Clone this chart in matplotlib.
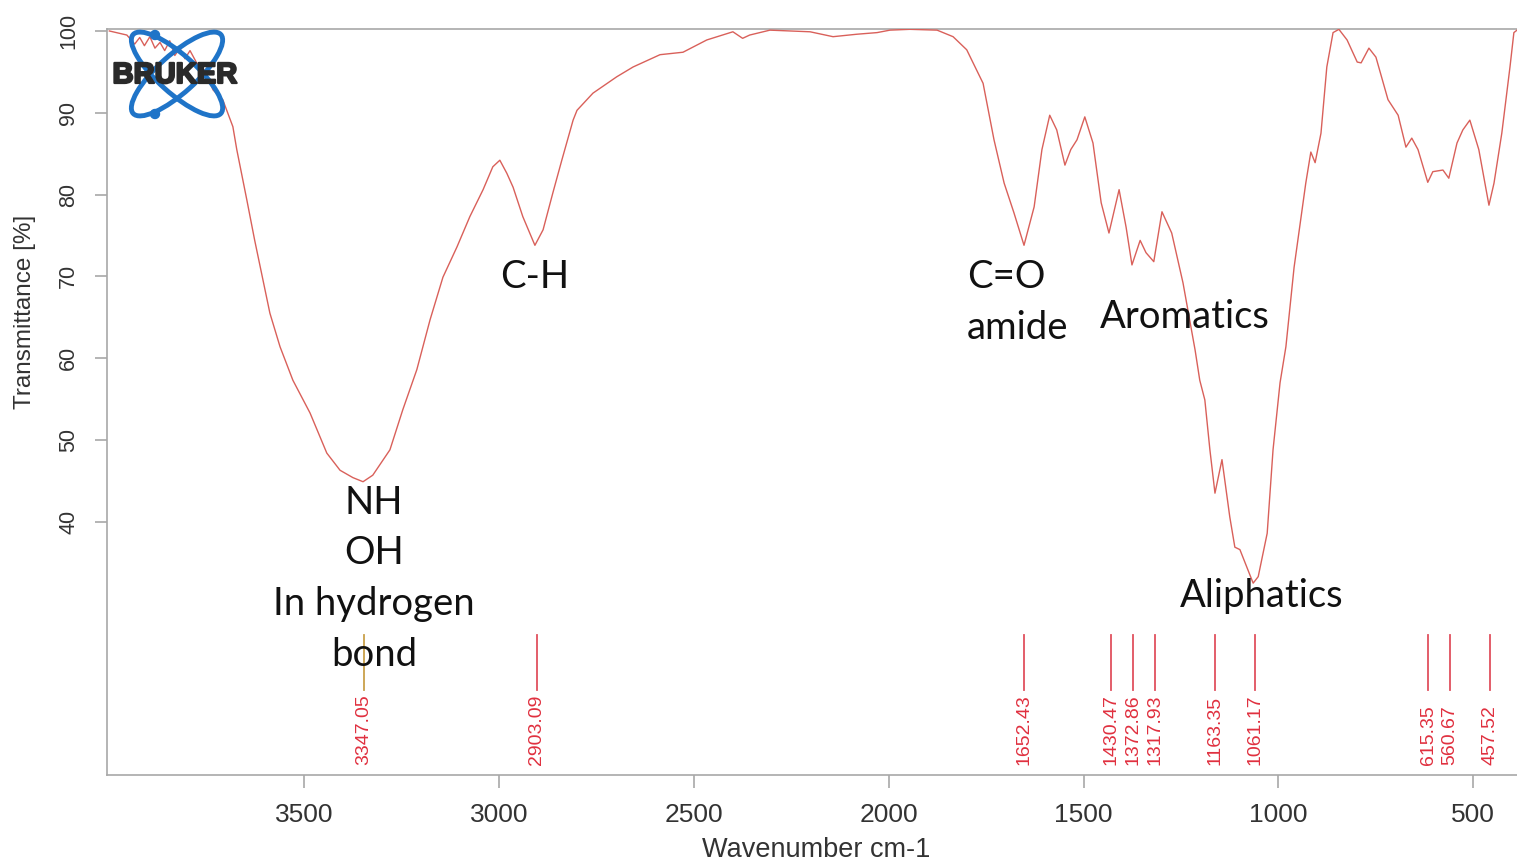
import matplotlib
matplotlib.use("Agg")
import matplotlib.pyplot as plt
import matplotlib.patheffects as pe
from matplotlib.patches import Ellipse, Circle

# ---- data ----
wavenumber = [4000, 3955, 3935, 3922, 3910, 3896, 3883, 3870, 3858, 3845, 3832, 3819,
              3806, 3793, 3776, 3755, 3734, 3709, 3683, 3673, 3647, 3627, 3606, 3588,
              3562, 3529, 3485, 3442, 3408, 3375, 3349, 3324, 3280, 3247, 3211, 3177,
              3144, 3108, 3075, 3041, 3016, 2998, 2980, 2964, 2939, 2908, 2887, 2862,
              2839, 2810, 2800, 2759, 2698, 2656, 2587, 2528, 2467, 2400, 2375, 2357,
              2305, 2202, 2143, 2082, 2030, 1997, 1946, 1876, 1835, 1800, 1758, 1730,
              1704, 1679, 1653, 1627, 1607, 1587, 1569, 1548, 1533, 1517, 1497, 1476,
              1455, 1435, 1409, 1391, 1376, 1355, 1340, 1320, 1299, 1274, 1245, 1214,
              1202, 1189, 1176, 1163, 1145, 1125, 1112, 1099, 1065, 1052, 1029, 1014,
              996, 981, 960, 930, 917, 906, 891, 876, 860, 845, 824, 798, 788, 768,
              750, 719, 693, 673, 658, 642, 617, 604, 578, 563, 542, 527, 509, 486,
              460, 447, 427, 406, 396, 388]
transmittance = [100.0, 99.5, 98.4, 99.2, 98.2, 99.3, 97.9, 98.6, 97.6, 98.8, 97.0, 97.9,
                 96.6, 97.6, 96.1, 95.2, 92.8, 91.6, 88.3, 85.5, 79.3, 74.4, 69.6, 65.5,
                 61.4, 57.3, 53.3, 48.4, 46.3, 45.4, 44.9, 45.7, 48.8, 53.7, 58.6, 64.7,
                 69.9, 73.6, 77.3, 80.6, 83.4, 84.2, 82.6, 80.9, 77.3, 73.8, 75.7, 80.2,
                 84.2, 89.1, 90.3, 92.4, 94.4, 95.6, 97.1, 97.4, 98.9, 99.9, 99.1, 99.5,
                 100.1, 99.9, 99.3, 99.6, 99.8, 100.1, 100.2, 100.1, 99.3, 97.7, 93.6, 86.7,
                 81.4, 77.8, 73.8, 78.5, 85.5, 89.7, 87.9, 83.6, 85.5, 86.7, 89.5, 86.3,
                 79.0, 75.3, 80.6, 76.0, 71.4, 74.4, 72.9, 71.8, 77.9, 75.3, 69.2, 61.0,
                 57.3, 54.9, 48.8, 43.5, 47.6, 40.6, 36.9, 36.6, 32.5, 33.3, 38.6, 48.8,
                 57.0, 61.4, 71.1, 81.4, 85.2, 83.9, 87.5, 95.6, 99.8, 100.2, 98.9, 96.2,
                 96.1, 97.9, 96.8, 91.6, 89.7, 85.8, 86.9, 85.5, 81.5, 82.8, 83.0, 82.0,
                 86.3, 87.9, 89.1, 85.5, 78.7, 81.4, 87.5, 95.6, 99.8, 100.1]

peak_positions = [3347.05, 2903.09, 1652.43, 1430.47, 1372.86, 1317.93,
                  1163.35, 1061.17, 615.35, 560.67, 457.52]
peak_labels = ["3347.05", "2903.09", "1652.43", "1430.47", "1372.86", "1317.93",
               "1163.35", "1061.17", "615.35", "560.67", "457.52"]

x_ticks = [3500, 3000, 2500, 2000, 1500, 1000, 500]
y_ticks = [40, 50, 60, 70, 80, 90, 100]

W, H = 1517, 861
fig = plt.figure(figsize=(W / 100, H / 100), dpi=100)


def fx(x):
    return x / W


def fy(y):
    return 1 - y / H


ax = fig.add_axes([fx(107), fy(775), fx(1517) - fx(107), fy(29) - fy(775)])
ax.set_xlim(4006, 388)
ax.set_ylim(9.05, 100.24)

ax.plot(wavenumber, transmittance, color="#d9605a", lw=1.0, zorder=3)

# peak marker lines and labels
for pos, lab in zip(peak_positions, peak_labels):
    col = "#c9a04a" if pos > 3000 else "#e0505e"
    ax.plot([pos, pos], [19.4, 26.2], color=col, lw=1.3, zorder=2)
    ax.text(pos, 10.3, lab, rotation=90, ha="center", va="bottom",
            color="#e0303f", fontsize=14, family="Liberation Sans")

# axes styling
for s in ["left", "bottom", "top"]:
    ax.spines[s].set_color("#a8a8a8")
    ax.spines[s].set_linewidth(1.2)
ax.spines["right"].set_visible(False)
ax.set_xticks(x_ticks)
ax.set_yticks(y_ticks)
ax.tick_params(axis="x", direction="out", length=9, width=1.2, color="#a8a8a8",
               labelsize=19, labelcolor="#333333", pad=11)
ax.tick_params(axis="y", direction="out", length=9, width=1.2, color="#a8a8a8",
               labelsize=15.5, labelcolor="#333333", pad=11)
for t in ax.get_yticklabels():
    t.set_rotation(90)
    t.set_va("center")
    t.set_family("Liberation Sans")
for t in ax.get_xticklabels():
    t.set_family("Liberation Sans")

fig.text(fx(816), fy(850), "Wavenumber cm-1", ha="center", va="center",
         fontsize=19.5, color="#333333", family="Liberation Sans")
fig.text(fx(25), fy(312), "Transmittance [%]", ha="center", va="center",
         rotation=90, fontsize=17.5, color="#333333", family="Liberation Sans")

# annotations
ann_kw = dict(fontsize=27.5, color="#111111", family="Lato", va="center")
for i, line in enumerate(["NH", "OH", "In hydrogen", "bond"]):
    fig.text(fx(374), fy(503 + 50.5 * i), line, ha="center", **ann_kw)
fig.text(fx(535), fy(277), "C-H", ha="center", **ann_kw)
fig.text(fx(967), fy(277), "C=O", ha="left", **ann_kw)
fig.text(fx(967), fy(328), "amide", ha="left", **ann_kw)
fig.text(fx(1100), fy(317), "Aromatics", ha="left", **ann_kw)
fig.text(fx(1262), fy(596), "Aliphatics", ha="center", **ann_kw)

# BRUKER logo
lx0, lx1, ly0, ly1 = 100, 250, 25, 125
lax = fig.add_axes([fx(lx0), fy(ly1), fx(lx1) - fx(lx0), fy(ly0) - fy(ly1)])
lax.set_xlim(lx0, lx1)
lax.set_ylim(ly1, ly0)
lax.axis("off")
lax.patch.set_alpha(0)
blue = "#1f74c8"
lax.add_patch(Ellipse((177, 74), 118, 38, angle=42, fill=False, ec=blue, lw=3.5))
lax.add_patch(Ellipse((177, 74), 118, 38, angle=-42, fill=False, ec=blue, lw=3.5))
lax.add_patch(Circle((155, 35), 4.5, color=blue))
lax.add_patch(Circle((155, 114), 4.5, color=blue))
lax.text(175, 75, "BRUKER", ha="center", va="center", fontsize=21,
         fontweight="bold", family="Liberation Sans", color="#2a2a2a",
         path_effects=[pe.withStroke(linewidth=1.6, foreground="#2a2a2a")])

fig.savefig("out.png", dpi=100)
